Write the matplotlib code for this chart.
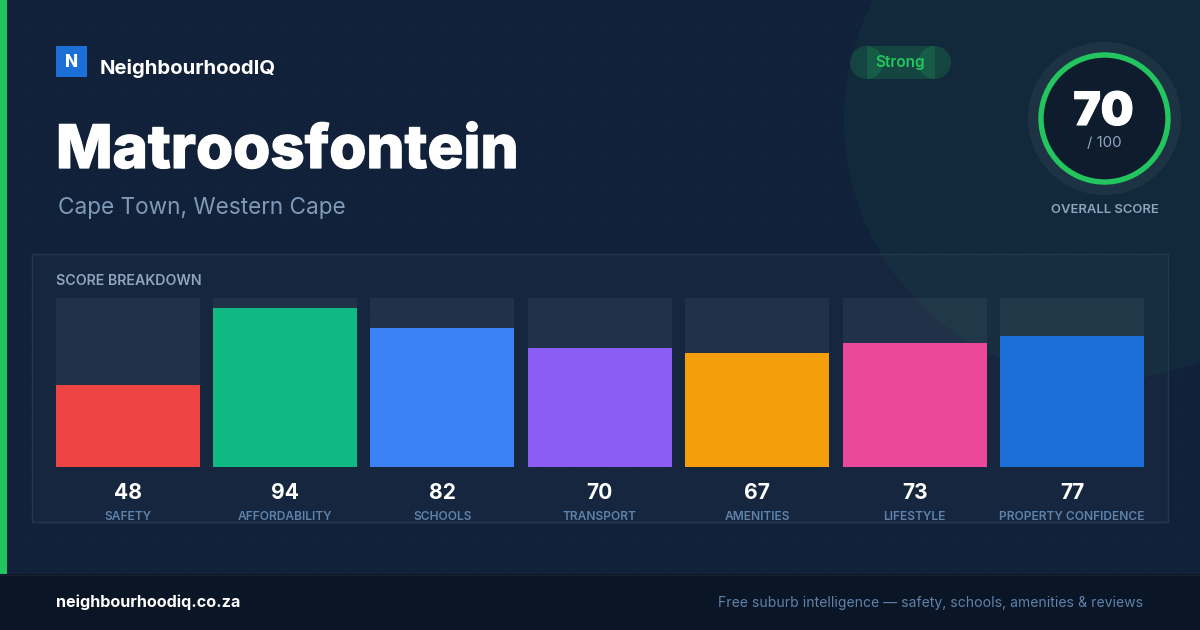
import matplotlib
matplotlib.use('Agg')
import matplotlib.pyplot as plt
from matplotlib.patches import Rectangle, Circle
import matplotlib.patheffects as pe
import numpy as np

# data
categories = ['SAFETY', 'AFFORDABILITY', 'SCHOOLS', 'TRANSPORT', 'AMENITIES', 'LIFESTYLE', 'PROPERTY CONFIDENCE']
scores = [48, 94, 82, 70, 67, 73, 77]
bar_colors = ['#EF4444', '#10B981', '#3B82F6', '#8B5CF6', '#F59E0B', '#EC4899', '#1D6FD8']
overall = 70

plt.rcParams['font.family'] = ['Inter', 'DejaVu Sans']
PX = 72 / 100  # px -> pt

fig = plt.figure(figsize=(12, 6.3), dpi=100, facecolor='#11213A')

# background layer in pixel coords
bg = fig.add_axes([0, 0, 1, 1])
bg.set_xlim(0, 1200)
bg.set_ylim(630, 0)
bg.axis('off')

# dot grid
gx, gy = np.meshgrid(np.arange(24, 1200, 32), np.arange(24, 574, 32))
bg.scatter(gx.ravel(), gy.ravel(), s=2.2, color='#FFFFFF', alpha=0.035, linewidths=0, zorder=1)

# big glow circle
bg.add_patch(Circle((1104, 120), 260, color='#22C55E', alpha=0.05, lw=0, zorder=2))

# accent bar and footer
bg.add_patch(Rectangle((0, 0), 7, 574, color='#22C55E', lw=0, zorder=3))
bg.add_patch(Rectangle((0, 574), 1200, 56, color='#0A1525', lw=0, zorder=3))
bg.plot([0, 1200], [574.5, 574.5], color='#16222F', lw=0.8, zorder=4)

# panel
bg.add_patch(Rectangle((32, 254), 1136, 268, facecolor='#FFFFFF', alpha=0.025, lw=0, zorder=3))
bg.add_patch(Rectangle((32, 254), 1136, 268, fill=False, edgecolor='#26364F', lw=1, zorder=4))

# logo
bg.add_patch(Rectangle((56, 46), 31, 31, color='#1D6FD8', lw=0, zorder=5))
bg.text(71.5, 66.7, 'N', color='white', fontsize=17 * PX, fontweight='heavy', ha='center', va='baseline', zorder=6)
bg.text(100, 74, 'NeighbourhoodIQ', color='white', fontsize=20.3 * PX, fontweight='bold', ha='left', va='baseline', zorder=6)

# title
bg.text(56, 168, 'Matroosfontein', color='white', fontsize=60 * PX, fontweight='heavy', ha='left', va='baseline', zorder=6,
        path_effects=[pe.withStroke(linewidth=0.9, foreground='white')])
bg.text(58, 214, 'Cape Town, Western Cape', color='#7E9AB8', fontsize=22.6 * PX, ha='left', va='baseline', zorder=6)

# badge
bg.add_patch(Rectangle((866.5, 46), 68, 33, facecolor='#22C55E', alpha=0.18, lw=0, zorder=5))
bg.add_patch(Circle((866.5, 62.5), 16.5, color='#22C55E', alpha=0.18, lw=0, zorder=5))
bg.add_patch(Circle((934.5, 62.5), 16.5, color='#22C55E', alpha=0.18, lw=0, zorder=5))
bg.text(900.5, 67, 'Strong', color='#22C55E', fontsize=15.4 * PX, fontweight='semibold', ha='center', va='baseline', zorder=6)

# score ring
cx, cy = 1104.5, 118.5
bg.add_patch(Circle((cx, cy), 76.5, color='#FFFFFF', alpha=0.05, lw=0, zorder=5))
bg.add_patch(Circle((cx, cy), 63.5, facecolor='#0F1C2E', edgecolor='#22C55E', lw=5.4 * PX, zorder=6))
bg.text(1103.5, 125, str(overall), color='white', fontsize=46 * PX, fontweight='black', ha='center', va='baseline', zorder=7,
        path_effects=[pe.withStroke(linewidth=0.8, foreground='white')])
bg.text(1104.2, 147.3, '/ 100', color='#8FA5BE', fontsize=15 * PX, ha='center', va='baseline', zorder=7)
bg.text(cx, 212.7, 'OVERALL SCORE', color='#8FA5BE', fontsize=13 * PX, fontweight='semibold', ha='center', va='baseline', zorder=7)

bg.text(56, 285, 'SCORE BREAKDOWN', color='#8FA5BE', fontsize=14.2 * PX, fontweight='semibold', ha='left', va='baseline', zorder=7)

# bars, axes nudged under a pixel so the edges round the same way as the reference
left, right, top, bottom = 55.6, 1144, 297.6, 466.6
ax = fig.add_axes([left / 1200, 1 - bottom / 630, (right - left) / 1200, (bottom - top) / 630])
ax.patch.set_alpha(0)
x = np.arange(len(scores))
width = 144 / ((right - left - 144) / 6)
ax.bar(x, [100] * len(x), width=width, color='#FFFFFF', alpha=0.05, lw=0)
ax.bar(x, scores, width=width, color=bar_colors, lw=0)
ax.set_xlim(-width / 2, len(x) - 1 + width / 2)
ax.set_ylim(0, 100)
ax.axis('off')

# values and labels under the bars
for i, (cat, val) in enumerate(zip(categories, scores)):
    ax.text(i, -19.4, str(val), color='white', fontsize=21 * PX, fontweight='bold', ha='center', va='baseline', clip_on=False)
    ax.text(i, -31.6, cat, color='#5F82AA', fontsize=12 * PX, fontweight='semibold', ha='center', va='baseline', clip_on=False)

# footer text
bg.text(56, 607.5, 'neighbourhoodiq.co.za', color='white', fontsize=16.2 * PX, fontweight='bold', ha='left', va='baseline', zorder=6)
bg.text(1143, 607.3, 'Free suburb intelligence — safety, schools, amenities & reviews', color='#5F82AA', fontsize=14 * PX, ha='right', va='baseline', zorder=6)

fig.savefig('out.png', dpi=100, facecolor=fig.get_facecolor())
